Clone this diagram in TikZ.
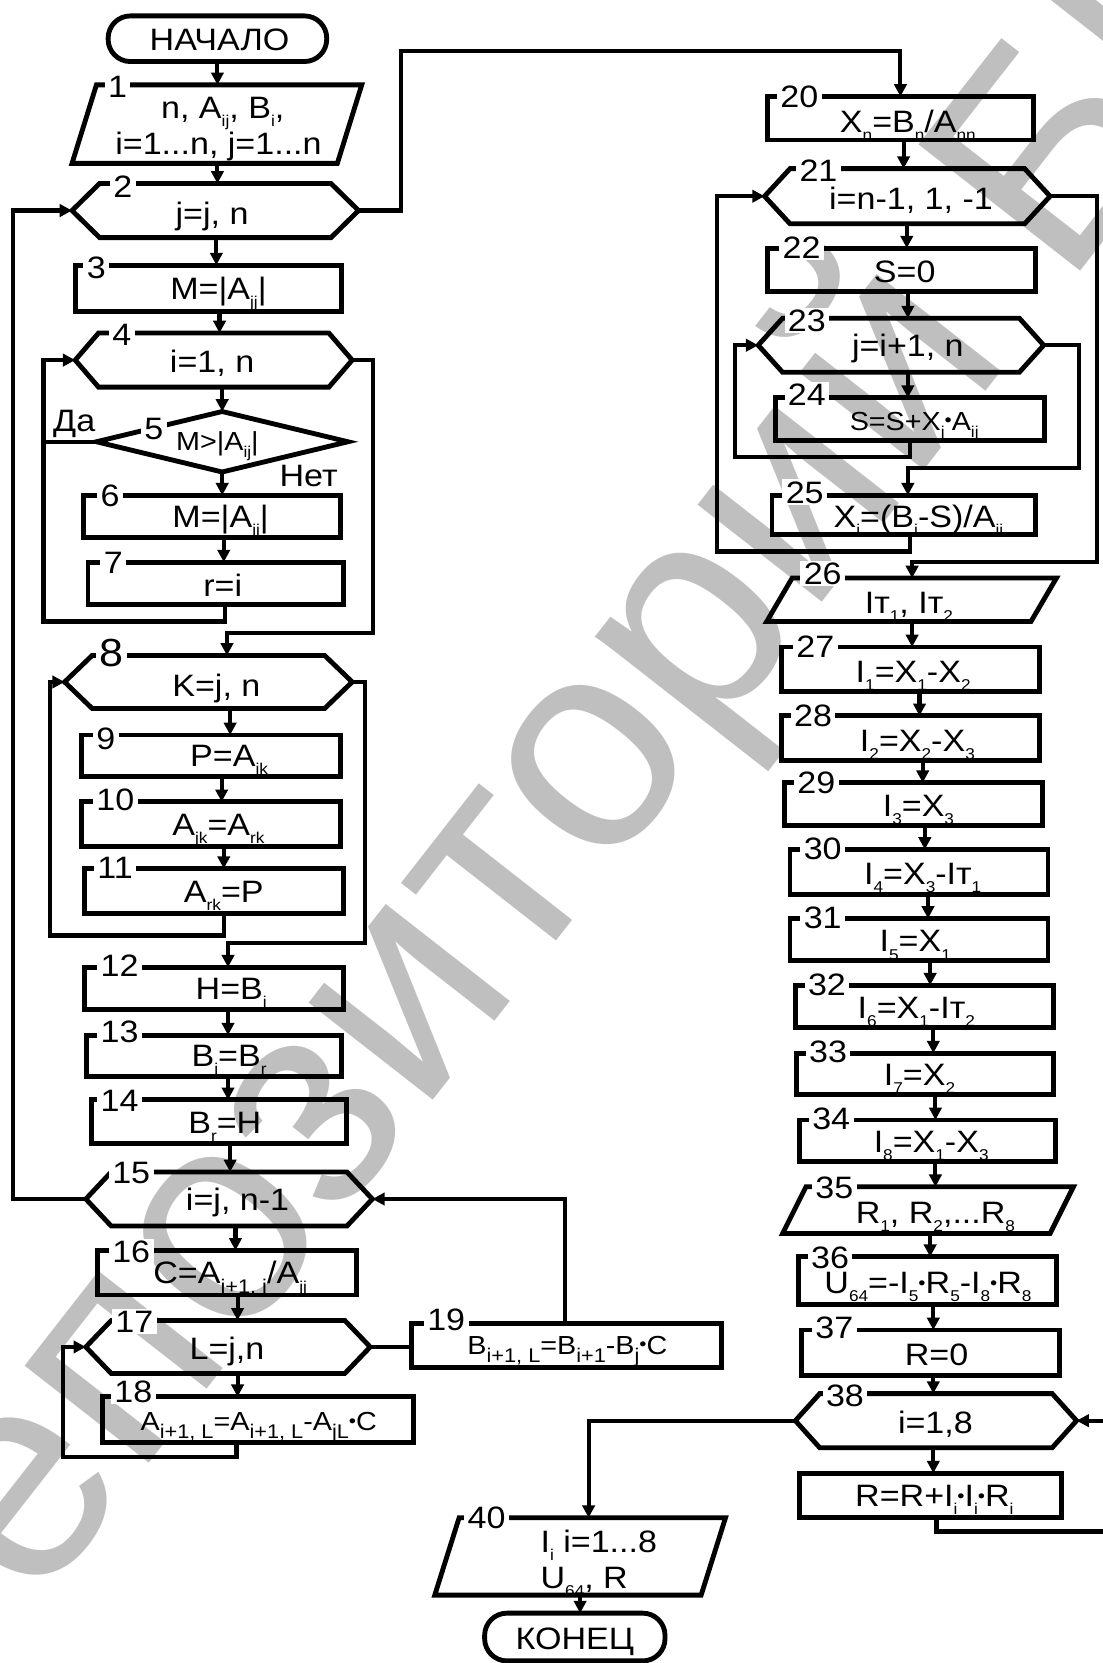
\documentclass[tikz,border=0pt]{standalone}
\usepackage{fontspec}
\setmainfont{Liberation Sans}[FakeStretch=1.1]
\newfontfamily\wmfont{Liberation Sans}
\usetikzlibrary{calc,arrows.meta}
\newcommand\sbs[1]{\raisebox{-0.5ex}{\fontsize{4.2}{4.5}\selectfont #1}}
\newcommand\sbl[1]{\raisebox{-0.6ex}{\fontsize{5.3}{5.5}\selectfont #1}}
\newcommand\bul{\raisebox{0.25ex}{\fontsize{5}{5}\selectfont •}}
\newcommand\mainsz{\fontsize{8.3}{9.5}\selectfont}
\newcommand\smallsz{\fontsize{7.0}{8}\selectfont}
\newcommand\bigsz{\fontsize{10.5}{11}\selectfont}
\newcommand\hexdraw[2]{\draw[shapeline] (#1.west) -- ($(#1.north west)+(#2,0)$) -- ($(#1.north east)+(-#2,0)$) -- (#1.east) -- ($(#1.south east)+(-#2,0)$) -- ($(#1.south west)+(#2,0)$) -- cycle;}
\newcommand\paradraw[2]{\draw[shapeline] ($(#1.north west)+(#2,0)$) -- (#1.north east) -- ($(#1.south east)+(-#2,0)$) -- (#1.south west) -- cycle;}
\tikzset{
  shapeline/.style={line width=1.3pt, line join=miter},
  frame/.style={rectangle, inner sep=0pt, outer sep=0pt},
  rbox/.style={frame, draw, line width=1.3pt},
  conn/.style={line width=1.1pt},
  arr/.style={conn, -{Triangle[length=3.3pt,width=3.3pt]}},
  txt/.style={inner sep=0pt, text height=6pt, text depth=0pt, font=\mainsz},
  stxt/.style={txt, font=\smallsz, text height=5pt},
  num/.style={anchor=west, fill=white, inner xsep=0.9pt, inner ysep=0.4pt, text height=6pt, text depth=0pt, font=\mainsz},
  term/.style={rbox, rounded corners=0.21cm},
  wm/.style={font=\wmfont\fontsize{80}{80}\selectfont, text=black!25, inner sep=0pt},
}
\begin{document}
\begin{tikzpicture}[x=0.01cm, y=-0.01cm]
\useasboundingbox (0,0) rectangle (1040,1568);
% watermark
\node[wm, rotate=52] (wm) at (662,590) {Репозиторий БГАТУ};

% ---------- left column shapes ----------
\node[term, minimum width=2.06cm, minimum height=0.43cm] (ts) at (205,36.5) {};
\node[txt] (tts) at (207,37) {НАЧАЛО};

\node[frame, minimum width=2.73cm, minimum height=0.74cm] (b1) at (204.5,117) {};
\paradraw{b1}{23}
\node[txt] (t1a) at (210,101) {n, A\sbs{ij}, B\sbs{i},};
\node[txt] (t1b) at (206,135) {i=1...n, j=1...n};
\node[num] (n1) at (98,81) {1};

\node[frame, minimum width=2.70cm, minimum height=0.51cm] (b2) at (203,198.5) {};
\hexdraw{b2}{26}
\node[txt] (t2) at (200,201) {j=j, n};
\node[num] (n2) at (103,176) {2};

\node[rbox, minimum width=2.51cm, minimum height=0.44cm] (b3) at (196.5,272) {};
\node[txt] (t3) at (206,272) {M=|A\sbs{jj}|};
\node[num] (n3) at (78,252) {3};

\node[frame, minimum width=2.61cm, minimum height=0.51cm] (b4) at (201.5,339.5) {};
\hexdraw{b4}{22}
\node[txt] (t4) at (200,341) {i=1, n};
\node[num] (n4) at (102,315) {4};

\node[frame, minimum width=2.37cm, minimum height=0.57cm] (b5) at (209.5,416.5) {};
\draw[shapeline] (b5.north) -- (b5.east) -- (b5.south) -- (b5.west) -- cycle;
\node[stxt] (t5) at (205,416) {M>|A\sbs{ij}|};
\node[num, anchor=center] (n5) at (145,404) {5};
\node[txt] (da) at (70,396) {Да};
\node[txt] (net) at (291,448) {Нет};

\node[rbox, minimum width=2.42cm, minimum height=0.40cm] (b6) at (200,487) {};
\node[txt] (t6) at (208,487) {M=|A\sbs{jj}|};
\node[num] (n6) at (91,467) {6};

\node[rbox, minimum width=2.41cm, minimum height=0.40cm] (b7) at (203.5,550) {};
\node[txt] (t7) at (210,552) {r=i};
\node[num] (n7) at (94,530) {7};

\node[frame, minimum width=2.71cm, minimum height=0.50cm] (b8) at (196.5,643) {};
\hexdraw{b8}{26}
\node[txt] (t8) at (204,646) {K=j, n};
\node[num, font=\bigsz, text height=7.5pt] (n8) at (90,615) {8};

\node[rbox, minimum width=2.44cm, minimum height=0.39cm] (b9) at (199,712.5) {};
\node[txt] (t9) at (216,712) {P=A\sbs{jk}};
\node[num] (n9) at (87,696) {9};

\node[rbox, minimum width=2.44cm, minimum height=0.42cm] (b10) at (199,777) {};
\node[txt] (t10) at (206,777) {A\sbs{jk}=A\sbs{rk}};
\node[num] (n10) at (87,754) {10};

\node[rbox, minimum width=2.44cm, minimum height=0.42cm] (b11) at (202,840) {};
\node[txt] (t11) at (211,840) {A\sbs{rk}=P};
\node[num] (n11) at (88,818) {11};

\node[rbox, minimum width=2.44cm, minimum height=0.40cm] (b12) at (202,932) {};
\node[txt] (t12) at (218,932) {H=B\sbs{j}};
\node[num] (n12) at (91,910) {12};

\node[rbox, minimum width=2.40cm, minimum height=0.39cm] (b13) at (202,995.5) {};
\node[txt] (t13) at (216,995) {B\sbs{j}=B\sbs{r}};
\node[num] (n13) at (91,972) {13};

\node[rbox, minimum width=2.41cm, minimum height=0.41cm] (b14) at (206.5,1057.5) {};
\node[txt] (t14) at (212,1058) {B\sbs{r}=H};
\node[num] (n14) at (91,1037) {14};

\node[frame, minimum width=2.70cm, minimum height=0.51cm] (b15) at (216,1130.5) {};
\hexdraw{b15}{24}
\node[txt] (t15) at (224,1131) {i=j, n-1};
\node[num] (n15) at (102,1105) {15};

\node[rbox, minimum width=2.44cm, minimum height=0.42cm] (b16) at (214,1200) {};
\node[txt] (t16) at (217,1200) {C=A\sbl{i+1, j}/A\sbs{jj}};
\node[num] (n16) at (102,1180) {16};

\node[frame, minimum width=2.68cm, minimum height=0.50cm] (b17) at (215,1270) {};
\hexdraw{b17}{24}
\node[txt] (t17) at (214,1271) {L=j,n};
\node[num] (n17) at (105,1246) {17};

\node[rbox, minimum width=2.93cm, minimum height=0.43cm] (b18) at (243.5,1338.5) {};
\node[stxt] (t18) at (244,1340) {A\sbl{i+1, L}=A\sbl{i+1, L}-A\sbl{jL}\bul C};
\node[num] (n18) at (104,1312) {18};

\node[rbox, minimum width=2.92cm, minimum height=0.41cm] (b19) at (534,1268.5) {};
\node[stxt] (t19) at (535,1268) {B\sbl{i+1, L}=B\sbl{i+1}-B\sbl{j}\bul C};
\node[num] (n19) at (399,1244) {19};

% ---------- right column shapes ----------
\node[rbox, minimum width=2.50cm, minimum height=0.41cm] (b20) at (849,111.5) {};
\node[txt] (t20) at (856,114) {X\sbs{n}=B\sbs{n}/A\sbs{nn}};
\node[num] (n20) at (732,91) {20};

\node[frame, minimum width=2.69cm, minimum height=0.52cm] (b21) at (855.5,185) {};
\hexdraw{b21}{24}
\node[txt] (t21) at (859,187) {i=n-1, 1, -1};
\node[num] (n21) at (750,161) {21};

\node[rbox, minimum width=2.52cm, minimum height=0.41cm] (b22) at (850,254.5) {};
\node[txt] (t22) at (853,256) {S=0};
\node[num] (n22) at (734,233) {22};

\node[frame, minimum width=2.69cm, minimum height=0.51cm] (b23) at (849.5,325.5) {};
\hexdraw{b23}{23}
\node[txt] (t23) at (856,326) {j=i+1, n};
\node[num] (n23) at (739,302) {23};

\node[rbox, minimum width=2.54cm, minimum height=0.40cm] (b24) at (858,395) {};
\node[stxt] (t24) at (862,397) {S=S+X\sbs{j}\bul A\sbs{ij}};
\node[num] (n24) at (739,372) {24};

\node[rbox, minimum width=2.48cm, minimum height=0.37cm] (b25) at (852,485.5) {};
\node[txt] (t25) at (866,487) {X\sbs{i}=(B\sbs{i}-S)/A\sbs{ii}};
\node[num] (n25) at (737,464) {25};

\node[frame, minimum width=2.73cm, minimum height=0.41cm] (b26) at (859.5,565.5) {};
\paradraw{b26}{24}
\node[txt] (t26) at (857,568) {Iт\sbs{1}, Iт\sbs{2}};
\node[num] (n26) at (754,541) {26};

\node[rbox, minimum width=2.43cm, minimum height=0.42cm] (b27) at (858.5,631) {};
\node[txt] (t27) at (861,633) {I\sbs{1}=X\sbs{1}-X\sbs{2}};
\node[num] (n27) at (747,609) {27};

\node[rbox, minimum width=2.43cm, minimum height=0.42cm] (b28) at (858.5,696) {};
\node[txt] (t28) at (865,698) {I\sbs{2}=X\sbs{2}-X\sbs{3}};
\node[num] (n28) at (745,674) {28};

\node[rbox, minimum width=2.43cm, minimum height=0.40cm] (b29) at (861.5,758) {};
\node[txt] (t29) at (866,759) {I\sbs{3}=X\sbs{3}};
\node[num] (n29) at (748,738) {29};

\node[rbox, minimum width=2.43cm, minimum height=0.42cm] (b30) at (866.5,822) {};
\node[txt] (t30) at (870,823) {I\sbs{4}=X\sbs{3}-Iт\sbs{1}};
\node[num] (n30) at (754,800) {30};

\node[rbox, minimum width=2.43cm, minimum height=0.40cm] (b31) at (866.5,886) {};
\node[txt] (t31) at (863,887) {I\sbs{5}=X\sbs{1}};
\node[num] (n31) at (754,865) {31};

\node[rbox, minimum width=2.43cm, minimum height=0.40cm] (b32) at (871.5,949) {};
\node[txt] (t32) at (864,950) {I\sbs{6}=X\sbs{1}-Iт\sbs{2}};
\node[num] (n32) at (758,928) {32};

\node[rbox, minimum width=2.42cm, minimum height=0.39cm] (b33) at (872,1012.5) {};
\node[txt] (t33) at (867,1013) {I\sbs{7}=X\sbs{2}};
\node[num] (n33) at (759,991) {33};

\node[rbox, minimum width=2.41cm, minimum height=0.39cm] (b34) at (874.5,1075.5) {};
\node[txt] (t34) at (878,1076) {I\sbs{8}=X\sbs{1}-X\sbs{3}};
\node[num] (n34) at (762,1054) {34};

\node[frame, minimum width=2.74cm, minimum height=0.44cm] (b35) at (875,1141) {};
\paradraw{b35}{22}
\node[txt] (t35) at (882,1143) {R\sbs{1}, R\sbs{2},...R\sbs{8}};
\node[num] (n35) at (765,1119) {35};

\node[rbox, minimum width=2.43cm, minimum height=0.45cm] (b36) at (874.5,1207.5) {};
\node[txt] (t36) at (875,1209) {U\sbs{64}=-I\sbs{5}\bul R\sbs{5}-I\sbs{8}\bul R\sbs{8}};
\node[num] (n36) at (761,1185) {36};

\node[rbox, minimum width=2.43cm, minimum height=0.43cm] (b37) at (877.5,1275.5) {};
\node[txt] (t37) at (883,1277) {R=0};
\node[num] (n37) at (765,1251) {37};

\node[frame, minimum width=2.65cm, minimum height=0.51cm] (b38) at (882.5,1339.5) {};
\hexdraw{b38}{23}
\node[txt] (t38) at (882,1341) {i=1,8};
\node[num] (n38) at (775,1316) {38};

\node[rbox, minimum width=2.47cm, minimum height=0.42cm] (b39) at (877.5,1410) {};
\node[txt] (t39) at (881,1410) {R=R+I\sbs{i}\bul I\sbs{i}\bul R\sbs{i}};

\node[frame, minimum width=2.74cm, minimum height=0.73cm] (b40) at (547,1467.5) {};
\paradraw{b40}{23}
\node[txt, anchor=west] (t40a) at (509,1453) {I\sbs{i} i=1...8};
\node[txt, anchor=west] (t40b) at (509,1487) {U\sbs{64}, R};
\node[num] (n40) at (437,1431) {40};

\node[term, minimum width=1.70cm, minimum height=0.45cm] (te) at (542,1543.5) {};
\node[txt] (tte) at (542,1545) {КОНЕЦ};

% ---------- connectors: left column ----------
\coordinate (c1) at (205,0);
\coordinate (c2) at (204,0);
\coordinate (c3) at (207,0);
\coordinate (c6) at (211,0);
\coordinate (c7) at (212,0);
\coordinate (c8) at (214,0);
\coordinate (c9) at (217,0);
\coordinate (c10) at (209,0);
\coordinate (c11) at (211,0);
\coordinate (c12) at (215,0);
\coordinate (c14) at (217,0);
\coordinate (c16) at (222,0);
\coordinate (c17) at (224,0);
\coordinate (c18) at (223,0);
\coordinate (c19) at (533,0);
\coordinate (L4) at (41,586);
\coordinate (R4) at (352,597);
\coordinate (L8) at (47,882);
\coordinate (R8) at (344,889);
\coordinate (L2) at (12,1130.5);
\coordinate (L17) at (59,1374);
\coordinate (T2) at (378,48);

\draw[arr] (ts.south -| c1) -- (b1.north -| c1);
\draw[arr] (b1.south -| c1) -- (b2.north -| c1);
\draw[arr] (b2.south -| c2) -- (b3.north -| c2);
\draw[arr] (b3.south -| c3) -- (b4.north -| c3);
\draw[arr] (b4.south -| b5.north) -- (b5.north);
\draw[arr] (b5.south) -- (b5.south |- b6.north);
\draw[arr] (b6.south -| c6) -- (b7.north -| c6);
\draw[arr] (b7.south -| c7) |- (L4) |- (b4.west);
\draw[conn] (b5.west) -- (b5.west -| L4);
\draw[arr] (b4.east) -| (R4) -| (b8.north -| c8);
\draw[arr] (b8.south -| c9) -- (b9.north -| c9);
\draw[arr] (b9.south -| c10) -- (b10.north -| c10);
\draw[arr] (b10.south -| c11) -- (b11.north -| c11);
\draw[arr] (b11.south -| c11) |- (L8) |- (b8.west);
\draw[arr] (b8.east) -| (R8) -| (b12.north -| c12);
\draw[arr] (b12.south -| c12) -- (b13.north -| c12);
\draw[arr] (b13.south -| c12) -- (b14.north -| c12);
\draw[arr] (b14.south -| c14) -- (b15.north -| c14);
\draw[arr] (b15.west) -- (L2) |- (b2.west);
\draw[arr] (b15.south -| c16) -- (b16.north -| c16);
\draw[arr] (b16.south -| c17) -- (b17.north -| c17);
\draw[arr] (b17.south -| c17) -- (b18.north -| c17);
\draw[arr] (b18.south -| c18) |- (L17) |- (b17.west);
\draw[conn] (b17.east) -- (b19.west |- b17.east);
\draw[arr] (b19.north -| c19) |- (b15.east);
\draw[arr] (b2.east) -| (T2) -| (b20.north);

% ---------- connectors: right column ----------
\coordinate (d21) at (852,0);
\coordinate (d22) at (855,0);
\coordinate (d23) at (856,0);
\coordinate (d24) at (858,0);
\coordinate (d26) at (860,0);
\coordinate (d28) at (867,0);
\coordinate (d29) at (870,0);
\coordinate (d30) at (872,0);
\coordinate (d31) at (875,0);
\coordinate (d32) at (877,0);
\coordinate (d33) at (880,0);
\coordinate (d34) at (882,0);
\coordinate (d36) at (877,0);
\coordinate (d37) at (880,0);
\coordinate (d39) at (883,0);
\coordinate (d40) at (555,0);
\coordinate (d41) at (547,0);
\coordinate (L23) at (693,431);
\coordinate (R23) at (1017,441);
\coordinate (L21) at (676,520);
\coordinate (R21) at (1034,530);
\coordinate (R38) at (1050,1444);

\draw[arr] (b20.south -| d21) -- (b21.north -| d21);
\draw[arr] (b21.south -| d22) -- (b22.north -| d22);
\draw[arr] (b22.south -| d23) -- (b23.north -| d23);
\draw[arr] (b23.south -| d23) -- (b24.north -| d23);
\draw[arr] (b24.south -| d24) |- (L23) |- (b23.west);
\draw[arr] (b23.east) -| (R23) -| (b25.north -| d23);
\draw[arr] (b25.south -| d24) |- (L21) |- (b21.west);
\draw[arr] (b21.east) -| (R21) -| (b26.north -| d26);
\draw[arr] (b26.south -| d26) -- (b27.north -| d26);
\draw[arr] (b27.south -| d28) -- (b28.north -| d28);
\draw[arr] (b28.south -| d29) -- (b29.north -| d29);
\draw[arr] (b29.south -| d30) -- (b30.north -| d30);
\draw[arr] (b30.south -| d31) -- (b31.north -| d31);
\draw[arr] (b31.south -| d32) -- (b32.north -| d32);
\draw[arr] (b32.south -| d33) -- (b33.north -| d33);
\draw[arr] (b33.south -| d34) -- (b34.north -| d34);
\draw[arr] (b34.south -| d34) -- (b35.north -| d34);
\draw[arr] (b35.south -| d36) -- (b36.north -| d36);
\draw[arr] (b36.south -| d37) -- (b37.north -| d37);
\draw[arr] (b37.south -| d37) -- (b38.north -| d37);
\draw[arr] (b38.south -| d37) -- (b39.north -| d37);
\draw[arr] (b39.south -| d39) |- (R38) |- (b38.east);
\draw[arr] (b38.west) -| (b40.north -| d40);
\draw[arr] (b40.south -| d41) -- (te.north -| d41);
\end{tikzpicture}
\end{document}
